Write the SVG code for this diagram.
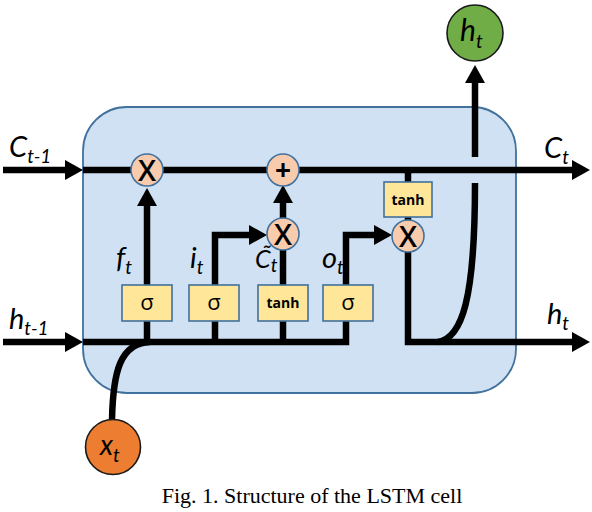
<svg xmlns="http://www.w3.org/2000/svg" width="592" height="512" viewBox="0 0 592 512">
<style>
.wire{fill:none;stroke:#000;stroke-width:6.5;stroke-linejoin:miter}
.op{fill:#f8cbad;stroke:#41719c;stroke-width:1.6}
.gate{fill:#ffe699;stroke:#41719c;stroke-width:1.6}
.lbl{font-family:Lato,"Open Sans","DejaVu Sans",sans-serif;font-style:italic;fill:#000}
.sym{font-family:"Open Sans","Liberation Sans",sans-serif;fill:#000;text-anchor:middle}
.mul{font-family:"Open Sans","Liberation Sans",sans-serif;font-size:29px;font-weight:600;fill:#000;text-anchor:middle}
.tanh{font-family:"Open Sans","Liberation Sans",sans-serif;font-weight:bold;font-size:14px;text-anchor:middle}
</style>
<defs>
<marker id="ah" viewBox="0 0 18 20" refX="2" refY="10" markerWidth="18" markerHeight="20" markerUnits="userSpaceOnUse" orient="auto">
<path d="M0,0 L18,10 L0,20 z" fill="#000"/>
</marker>
</defs>
<rect width="592" height="512" fill="#fff"/>
<g id="cell">
<rect x="83" y="107" width="433" height="286" rx="44" ry="44" fill="#cfe1f3" stroke="#41719c" stroke-width="1.8"/>
</g>
<g id="connectors">
<path class="wire" d="M3,170 H67" marker-end="url(#ah)"/>
<path class="wire" d="M83,170 H574" marker-end="url(#ah)"/>
<path class="wire" d="M3,342 H67" marker-end="url(#ah)"/>
<path class="wire" d="M83,342 H346 V235 H376" marker-end="url(#ah)"/>
<path class="wire" d="M147,342 V204" marker-end="url(#ah)"/>
<path class="wire" d="M215,342 V235 H251" marker-end="url(#ah)"/>
<path class="wire" d="M283,342 V249"/>
<path class="wire" d="M283,218 V201" marker-end="url(#ah)"/>
<path class="wire" d="M408,170 V222"/>
<path class="wire" d="M408,250 V342 H574" marker-end="url(#ah)"/>
<path class="wire" d="M438,342 C462,338 475,300 475,183"/>
<path class="wire" d="M475,157 V81" marker-end="url(#ah)"/>
<path class="wire" d="M112,420 C113,372 120,343 150,342"/>
</g>
<g id="forget-mul" class="node"><circle class="op" cx="147" cy="170" r="16"/><text class="mul" x="147" y="180.5">X</text></g>
<g id="add" class="node"><circle class="op" cx="283" cy="170" r="16"/><text class="sym" x="283" y="180" font-size="28" font-weight="bold">+</text></g>
<g id="input-mul" class="node"><circle class="op" cx="283" cy="234" r="16"/><text class="mul" x="283" y="244.5">X</text></g>
<g id="output-mul" class="node"><circle class="op" cx="408" cy="236" r="16"/><text class="mul" x="408" y="246.5">X</text></g>
<g id="tanh-out" class="node"><rect class="gate" x="384" y="182" width="48" height="35"/><text class="tanh" x="408" y="205">tanh</text></g>
<g id="forget-gate" class="node"><rect class="gate" x="122" y="285" width="50" height="36"/><text class="sym" x="147" y="310" font-size="22">σ</text></g>
<g id="input-gate" class="node"><rect class="gate" x="189" y="285" width="50" height="36"/><text class="sym" x="214" y="310" font-size="22">σ</text></g>
<g id="candidate" class="node"><rect class="gate" x="258" y="285" width="50" height="36"/><text class="tanh" x="283" y="308">tanh</text></g>
<g id="output-gate" class="node"><rect class="gate" x="323" y="285" width="50" height="36"/><text class="sym" x="348" y="310" font-size="22">σ</text></g>
<g id="xt" class="node"><circle cx="113" cy="447" r="27.5" fill="#ed7d31" stroke="#1a1a1a" stroke-width="1.6"/><text class="lbl" x="100" y="455" font-size="28">x<tspan font-size="19" dy="7">t</tspan></text></g>
<g id="ht-out" class="node"><circle cx="475" cy="33" r="28" fill="#70ad47" stroke="#1a1a1a" stroke-width="1.6"/><text class="lbl" x="460" y="41" font-size="30">h<tspan font-size="19" dy="7">t</tspan></text></g>
<g id="labels">
<text class="lbl" x="9" y="157" font-size="29">C<tspan font-size="19" dy="6">t-1</tspan></text>
<text class="lbl" x="9" y="329" font-size="29">h<tspan font-size="19" dy="6">t-1</tspan></text>
<text class="lbl" x="544" y="158" font-size="29">C<tspan font-size="19" dy="6">t</tspan></text>
<text class="lbl" x="547" y="324" font-size="29">h<tspan font-size="19" dy="6">t</tspan></text>
<text class="lbl" x="116" y="268" font-size="29">f<tspan font-size="19" dy="6">t</tspan></text>
<text class="lbl" x="190" y="268" font-size="29">i<tspan font-size="19" dy="6">t</tspan></text>
<text class="lbl" x="255" y="268" font-size="25">C&#x303;<tspan font-size="19" dy="4">t</tspan></text>
<text class="lbl" x="322" y="268" font-size="29">o<tspan font-size="19" dy="6">t</tspan></text>
</g>
<text x="312" y="503" font-family="'Liberation Serif','Times New Roman',serif" font-size="22" text-anchor="middle">Fig. 1. Structure of the LSTM cell</text>
</svg>
